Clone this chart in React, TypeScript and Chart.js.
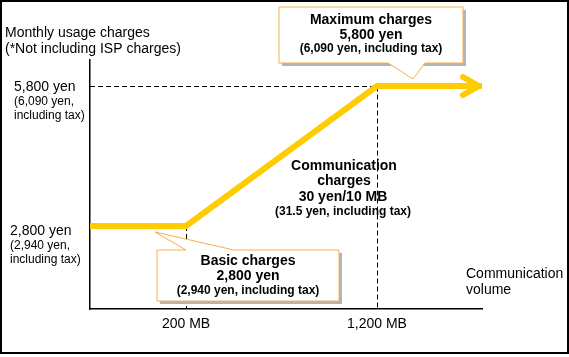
import React, { useEffect, useRef } from "react";
import { Chart, registerables } from "chart.js";

Chart.register(...registerables);

// ---- data ----
const volumeTicksMB = [200, 1200];
const volumeTickLabels = ["200 MB", "1,200 MB"];
const chargeTicksYen = [2800, 5800];
const chargeTickLabels = ["2,800 yen", "5,800 yen"];
const chargeTaxLabels = [
  ["(2,940 yen,", "including tax)"],
  ["(6,090 yen,", "including tax)"],
];
const X_MIN = -303;
const X_MAX = 1750;
const Y_MIN = 1021;
const Y_MAX = 6357;
const usageVolumeMB = [X_MIN, 200, 1200, X_MAX];
const usageChargeYen = [2800, 2800, 5800, 5800];

const FONT = '"Liberation Sans", Arial, sans-serif';
const YELLOW = "#FFCC00";
const ORANGE = "#F8B04A";
const SHADOW = "#B4B4B4";

type Pt = [number, number];

function drawCallout(ctx: CanvasRenderingContext2D, box: [number, number, number, number], poly: Pt[], lines: [string, string, number][], cx: number) {
  const [l, t, r, b] = box;
  ctx.save();
  ctx.fillStyle = SHADOW;
  ctx.fillRect(l + 3, t + 3, r - l, b - t);
  ctx.beginPath();
  poly.forEach(([px, py], i) => (i ? ctx.lineTo(px, py) : ctx.moveTo(px, py)));
  ctx.closePath();
  ctx.fillStyle = "#fff";
  ctx.fill();
  ctx.strokeStyle = ORANGE;
  ctx.lineWidth = 1;
  ctx.stroke();
  ctx.fillStyle = "#000";
  ctx.textAlign = "center";
  ctx.textBaseline = "middle";
  for (const [txt, font, yy] of lines) {
    ctx.font = font;
    ctx.fillText(txt, cx, yy);
  }
  ctx.restore();
}

const decorPlugin = {
  id: "decor",
  beforeDraw(chart: any) {
    const ctx = chart.ctx as CanvasRenderingContext2D;
    ctx.save();
    ctx.fillStyle = "#fff";
    ctx.fillRect(0, 0, chart.width, chart.height);
    ctx.strokeStyle = "#000";
    ctx.lineWidth = 2;
    ctx.strokeRect(1, 1, 567, 352);
    ctx.restore();
  },
  beforeDatasetsDraw(chart: any) {
    const ctx = chart.ctx as CanvasRenderingContext2D;
    const { x, y } = chart.scales;
    const area = chart.chartArea;
    ctx.save();
    ctx.fillStyle = "#000";
    ctx.textAlign = "center";
    ctx.textBaseline = "middle";
    ctx.font = `bold 14px ${FONT}`;
    ctx.fillText("Communication", 344, 166);
    ctx.fillText("charges", 344, 181);
    ctx.fillText("30 yen/10 MB", 343, 197);
    ctx.font = `bold 12px ${FONT}`;
    ctx.fillText("(31.5 yen, including tax)", 343, 212);

    ctx.strokeStyle = "#000";
    ctx.lineWidth = 1;
    ctx.setLineDash([5, 3]);
    const xa = Math.round(x.getPixelForValue(usageVolumeMB[1])) + 0.5;
    const xb = Math.round(x.getPixelForValue(usageVolumeMB[2])) + 0.5;
    const ya = y.getPixelForValue(usageChargeYen[1]);
    const yb = Math.round(y.getPixelForValue(usageChargeYen[2])) + 0.5;
    ctx.beginPath();
    ctx.moveTo(xa, ya);
    ctx.lineTo(xa, area.bottom);
    ctx.moveTo(xb, yb);
    ctx.lineTo(xb, area.bottom);
    ctx.moveTo(area.left, yb);
    ctx.lineTo(xb, yb);
    ctx.stroke();
    ctx.restore();
  },
  afterDatasetsDraw(chart: any) {
    const ctx = chart.ctx as CanvasRenderingContext2D;
    const { x, y } = chart.scales;
    const n = usageVolumeMB.length - 1;
    const px = x.getPixelForValue(usageVolumeMB[n]);
    const py = y.getPixelForValue(usageChargeYen[n]);
    // arrowhead
    ctx.save();
    ctx.strokeStyle = YELLOW;
    ctx.lineWidth = 6;
    ctx.lineCap = "round";
    ctx.lineJoin = "round";
    ctx.beginPath();
    ctx.moveTo(px - 19, py - 9);
    ctx.lineTo(px - 3, py);
    ctx.lineTo(px - 19, py + 9);
    ctx.stroke();
    ctx.restore();

    // callouts
    drawCallout(
      ctx,
      [279, 7, 463, 63],
      [[279, 7], [463, 7], [463, 63], [425, 63], [413, 79], [388, 63], [279, 63]],
      [
        ["Maximum charges", `bold 14px ${FONT}`, 20],
        ["5,800 yen", `bold 14px ${FONT}`, 35],
        ["(6,090 yen, including tax)", `bold 12px ${FONT}`, 49],
      ],
      371
    );
    drawCallout(
      ctx,
      [157, 250, 339, 301],
      [[157, 250], [186, 250], [155, 232], [234, 250], [339, 250], [339, 301], [157, 301]],
      [
        ["Basic charges", `bold 14px ${FONT}`, 261],
        ["2,800 yen", `bold 14px ${FONT}`, 276],
        ["(2,940 yen, including tax)", `bold 12px ${FONT}`, 291],
      ],
      248
    );

    // y labels
    ctx.save();
    ctx.fillStyle = "#000";
    ctx.textAlign = "left";
    ctx.textBaseline = "middle";
    const lefts = [10, 14];
    chargeTicksYen.forEach((v, i) => {
      const yy = y.getPixelForValue(v);
      const off = i === 0 ? 5 : 1;
      ctx.font = `14px ${FONT}`;
      ctx.fillText(chargeTickLabels[i], lefts[i], yy + off);
      ctx.font = `12px ${FONT}`;
      ctx.fillText(chargeTaxLabels[i][0], lefts[i], yy + off + 15);
      ctx.fillText(chargeTaxLabels[i][1], lefts[i], yy + off + 29);
    });
    ctx.font = `14px ${FONT}`;
    ctx.fillText("Monthly usage charges", 5, 33);
    ctx.fillText("(*Not including ISP charges)", 5, 49);
    ctx.fillText("Communication", 466, 274);
    ctx.fillText("volume", 466, 290);
    ctx.restore();
  },
};

export default function App() {
  const ref = useRef<HTMLCanvasElement>(null);
  useEffect(() => {
    document.body.style.margin = "0";
    if (!ref.current) return;
    const chart = new Chart(ref.current, {
      type: "line",
      data: {
        datasets: [
          {
            data: usageVolumeMB.map((v, i) => ({ x: v, y: usageChargeYen[i] })),
            borderColor: YELLOW,
            borderWidth: 6,
            pointRadius: 0,
            tension: 0,
            fill: false,
            clip: false as any,
          },
        ],
      },
      options: {
        animation: false,
        responsive: false,
        devicePixelRatio: 1,
        layout: { padding: { top: 60, right: 87, left: 0, bottom: 0 } },
        plugins: { legend: { display: false }, tooltip: { enabled: false } },
        scales: {
          x: {
            type: "linear",
            min: X_MIN,
            max: X_MAX,
            afterBuildTicks: (s: any) => {
              s.ticks = volumeTicksMB.map((v) => ({ value: v }));
            },
            afterFit: (s: any) => {
              s.height = 48;
            },
            ticks: {
              autoSkip: false,
              maxRotation: 0,
              padding: 7,
              color: "#000",
              font: { family: FONT, size: 14 },
              callback: (_v: any, i: number) => volumeTickLabels[i],
            },
            grid: { display: false, drawTicks: false },
            border: { display: true, color: "#000", width: 1.5 },
          },
          y: {
            type: "linear",
            min: Y_MIN,
            max: Y_MAX,
            afterFit: (s: any) => {
              s.width = 90;
            },
            ticks: { display: false },
            grid: { display: false, drawTicks: false },
            border: { display: true, color: "#000", width: 1.5 },
          },
        },
      },
      plugins: [decorPlugin],
    } as any);
    return () => chart.destroy();
  }, []);
  return <canvas ref={ref} width={569} height={357} style={{ display: "block", width: 569, height: 357 }} />;
}
